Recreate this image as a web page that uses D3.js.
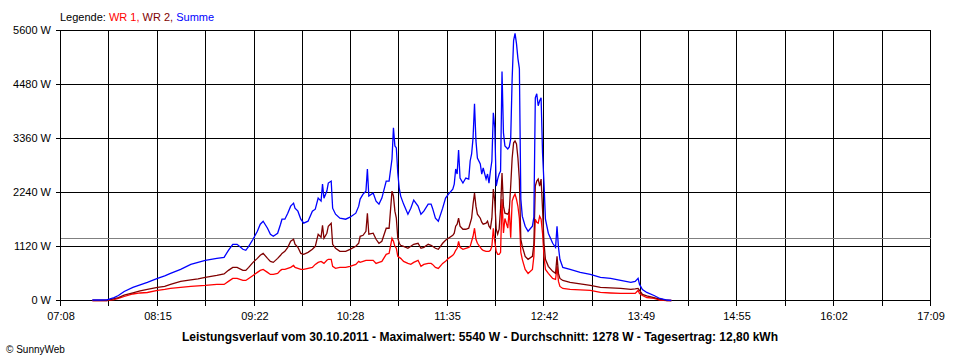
<!DOCTYPE html>
<html>
<head>
<meta charset="utf-8">
<script src="https://cdn.jsdelivr.net/npm/d3@7"></script>
<style>
  html, body { margin: 0; padding: 0; background: #fff; }
  svg { display: block; }
  text { font-family: "Liberation Sans", Arial, sans-serif; }
</style>
</head>
<body>
<svg id="chart" width="960" height="360"></svg>
<script>
// ---- data ----
const times = ["07:30","07:36","07:40","07:45","07:48","07:52","07:58","08:03","08:08","08:15","08:20","08:24","08:31","08:38","08:43","08:48","08:52","08:56","09:01","09:04","09:07","09:10","09:14","09:16","09:18","09:21","09:24","09:26","09:28","09:31","09:33","09:35","09:38","09:40","09:41","09:43","09:45","09:47","09:49","09:50","09:52","09:54","09:56","09:59","10:02","10:04","10:06","10:08","10:09","10:10","10:12","10:13","10:15","10:16","10:18","10:21","10:25","10:28","10:32","10:34","10:35","10:37","10:39","10:40","10:41","10:44","10:46","10:48","10:50","10:53","10:55","10:57","10:58","10:59","11:00","11:01","11:02","11:03","11:05","11:08","11:10","11:12","11:15","11:17","11:19","11:22","11:24","11:25","11:27","11:29","11:32","11:34","11:36","11:39","11:40","11:41","11:42","11:43","11:44","11:46","11:48","11:50","11:51","11:52","11:53","11:54","11:55","11:56","11:58","11:59","12:00","12:02","12:03","12:04","12:05","12:06","12:07","12:08","12:09","12:10","12:11","12:12","12:13","12:14","12:15","12:17","12:18","12:19","12:20","12:21","12:22","12:23","12:24","12:25","12:26","12:27","12:29","12:31","12:34","12:35","12:36","12:37","12:38","12:39","12:40","12:41","12:42","12:43","12:45","12:48","12:50","12:51","12:52","12:53","12:55","13:00","13:07","13:14","13:21","13:28","13:35","13:42","13:45","13:47","13:48","13:50","13:53","13:58","14:02","14:07","14:10"];

const wr1 = [0,0,0,20,42,83,135,156,166,208,229,250,271,291,302,312,323,333,333,396,458,458,416,416,458,520,583,625,645,583,541,541,562,625,645,645,666,687,729,687,666,645,645,666,687,749,791,812,791,770,833,854,854,708,666,687,687,708,749,812,791,812,833,833,833,833,770,791,812,958,978,1291,1228,1124,1083,916,895,874,812,770,749,791,833,708,749,770,770,749,687,666,770,812,874,937,978,1041,1083,1228,1103,1062,1083,1103,1124,1228,1332,1499,1270,1187,1103,1062,1041,1020,1020,1020,1041,1124,1499,1228,1020,958,958,1000,2103,1400,1700,1500,1900,1300,2061,2150,2207,2100,1950,1700,1000,854,645,562,645,916,1686,1624,1603,1749,1686,1395,916,645,562,458,437,708,396,291,250,229,219,208,167,156,146,146,146,208,146,104,62,42,10,0,0];

const wr2 = [0,0,0,40,62,110,160,198,229,271,291,333,396,427,448,479,500,520,551,625,687,687,625,625,687,791,874,937,978,874,812,791,874,937,978,1020,1103,1228,1270,1166,1103,978,958,999,1062,1124,1374,1312,1561,1291,1395,1541,1603,1166,1083,1020,1020,1062,1124,1187,1332,1353,1436,1811,1374,1395,1270,1187,1228,1499,1499,2269,2165,1853,1707,1291,1187,1145,1124,1083,1124,1166,1187,1083,1103,1166,1145,1124,1083,1062,1187,1249,1291,1353,1395,1541,1582,1707,1541,1478,1478,1499,1603,1707,1999,2228,1957,1790,1707,1624,1582,1603,1645,1541,1499,1707,2311,2061,1478,1374,1478,1900,2644,1957,1811,1790,1853,2373,2950,3270,3310,3248,2956,2500,1270,1124,916,854,916,1166,2373,2477,2519,2373,2519,1894,1187,854,708,604,562,916,562,458,416,375,343,312,271,260,250,229,240,250,208,125,94,62,31,0,0];

const summe = [10,10,15,60,104,187,271,323,375,458,510,562,645,749,791,833,854,874,895,1041,1166,1166,1062,1041,1124,1270,1436,1582,1645,1499,1374,1332,1395,1582,1686,1686,1811,1957,2019,1915,1853,1686,1603,1645,1853,1894,2123,2061,2415,2123,2269,2436,2477,1915,1790,1707,1686,1728,1811,1957,2103,2207,2269,2727,2165,2228,2061,1999,2123,2477,2477,2935,3581,3206,3164,2644,2332,2165,1999,1790,1915,2082,1957,1790,1853,1999,1999,1915,1707,1645,1915,2123,2207,2311,2415,2727,2623,3123,2540,2436,2540,2519,2894,3039,3373,4080,3310,2956,2831,2623,2748,2519,2623,2436,2686,2894,3893,3581,2373,2519,2623,2686,4747,3477,3206,3143,3185,3352,4600,5392,5540,5329,5017,4809,2103,1749,1541,1436,1541,1728,4205,4289,4039,4143,4205,3060,2436,1686,1395,1187,1103,1541,1103,854,687,645,583,541,479,458,416,375,396,458,333,229,167,104,42,10,0];

const yTicks = [0, 1120, 2240, 3360, 4480, 5600];
const xTickLabels = ["07:08","08:15","09:22","10:28","11:35","12:42","13:49","14:55","16:02","17:09"];
const average = 1278;

const legendParts = [
  {text: "Legende: ", color: "#000000"},
  {text: "WR 1, ", color: "#ff0000"},
  {text: "WR 2, ", color: "#800000"},
  {text: "Summe", color: "#0000ff"}
];
const titleText = "Leistungsverlauf vom 30.10.2011 - Maximalwert: 5540 W - Durchschnitt: 1278 W - Tagesertrag: 12,80 kWh";
const copyright = "© SunnyWeb";

// ---- drawing ----
const toMin = s => { const [h, m] = s.split(":").map(Number); return h * 60 + m; };

const svg = d3.select("#chart");
const pL = 60, pR = 930, pT = 30, pB = 300;

const x = d3.scaleLinear()
  .domain([toMin(xTickLabels[0]), toMin(xTickLabels[xTickLabels.length - 1])])
  .range([pL, pR]);
const y = d3.scaleLinear().domain([0, 5600]).range([pB, pT]);

const g = svg.append("g").attr("transform", "translate(0.5,0.5)");

// vertical grid lines: at labels and halfway between
const labelMins = xTickLabels.map(toMin);
const gridMins = [];
labelMins.forEach((m, i) => {
  gridMins.push(m);
  if (i < labelMins.length - 1) gridMins.push((m + labelMins[i + 1]) / 2);
});
g.selectAll("line.vgrid").data(gridMins).enter().append("line")
  .attr("class", "vgrid")
  .attr("x1", d => Math.round(x(d))).attr("x2", d => Math.round(x(d)))
  .attr("y1", pT).attr("y2", pB + 5)
  .attr("stroke", "#000").attr("stroke-width", 1)
  .attr("shape-rendering", "crispEdges");

// horizontal grid lines
g.selectAll("line.hgrid").data(yTicks).enter().append("line")
  .attr("class", "hgrid")
  .attr("x1", pL - 5).attr("x2", pR)
  .attr("y1", d => Math.round(y(d))).attr("y2", d => Math.round(y(d)))
  .attr("stroke", "#000").attr("stroke-width", 1)
  .attr("shape-rendering", "crispEdges");

// average line
g.append("line")
  .attr("x1", pL).attr("x2", pR)
  .attr("y1", Math.round(y(average))).attr("y2", Math.round(y(average)))
  .attr("stroke", "#808080").attr("stroke-width", 1)
  .attr("shape-rendering", "crispEdges");

// y labels
svg.selectAll("text.ylab").data(yTicks).enter().append("text")
  .attr("class", "ylab")
  .attr("x", 51).attr("y", d => Math.round(y(d)) + 4)
  .attr("text-anchor", "end")
  .attr("font-size", "11px")
  .attr("fill", "#000")
  .text(d => d + " W");

// x labels
svg.selectAll("text.xlab").data(xTickLabels).enter().append("text")
  .attr("class", "xlab")
  .attr("x", d => x(toMin(d)) + 1).attr("y", 320)
  .attr("text-anchor", "middle")
  .attr("font-size", "11px")
  .attr("fill", "#000")
  .text(d => d);

// series
const series = [
  {values: wr1, color: "#ff0000"},
  {values: wr2, color: "#800000"},
  {values: summe, color: "#0000ff"}
];
const line = d3.line()
  .x(d => x(toMin(d.t)))
  .y(d => y(d.v))
  .curve(d3.curveLinear);

series.forEach(s => {
  const pts = times.map((t, i) => ({t, v: s.values[i]}));
  g.append("path")
    .datum(pts)
    .attr("d", line)
    .attr("fill", "none")
    .attr("stroke", s.color)
    .attr("stroke-width", 1.3)
    .attr("stroke-linejoin", "miter");
});

// legend
const leg = svg.append("text").attr("x", 60).attr("y", 21).attr("font-size", "11px");
legendParts.forEach(p => leg.append("tspan").attr("fill", p.color).text(p.text));

// title
svg.append("text")
  .attr("x", 480).attr("y", 341)
  .attr("text-anchor", "middle")
  .attr("font-size", "12px")
  .attr("font-weight", "bold")
  .attr("fill", "#000")
  .text(titleText);

// copyright
svg.append("text")
  .attr("x", 6).attr("y", 353)
  .attr("font-size", "10px")
  .attr("fill", "#000")
  .text(copyright);
</script>
</body>
</html>
